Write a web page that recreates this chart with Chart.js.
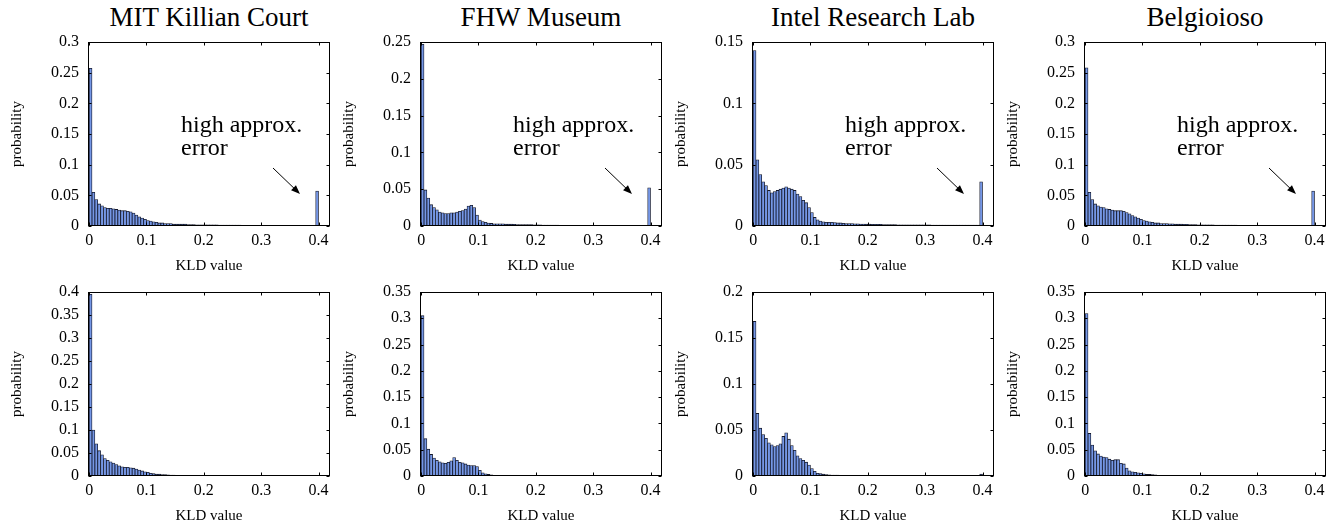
<!DOCTYPE html>
<html>
<head>
<meta charset="utf-8">
<script src="https://cdn.jsdelivr.net/npm/chart.js@4"></script>
<style>
  body { margin: 0; background: #fff; width: 1340px; height: 527px; position: relative; overflow: hidden; font-family: 'Liberation Serif', 'Times New Roman', serif; }
  .title { position: absolute; font-size: 27px; line-height: 27px; text-align: center; white-space: nowrap; }
  canvas { position: absolute; }
</style>
</head>
<body>
<script>
// histogram bins: 80 bins of width 0.005 from 0 to 0.4
const binWidth = 0.005;
const binCount = 80;
const xTicks = [0, 0.1, 0.2, 0.3, 0.4];
const titles = ['MIT Killian Court', 'FHW Museum', 'Intel Research Lab', 'Belgioioso'];
const noteLines = ['high approx.', 'error'];

const mitTop = [
  0.257, 0.055, 0.043, 0.036, 0.033, 0.030, 0.029, 0.029, 0.028, 0.027,
  0.026, 0.025, 0.025, 0.024, 0.023, 0.021, 0.018, 0.015, 0.013, 0.011,
  0.009, 0.008, 0.007, 0.006, 0.005, 0.005, 0.004, 0.004, 0.004, 0.003,
  0.003, 0.003, 0.003, 0.003, 0.0025, 0.0025, 0.0025, 0.002, 0.002, 0.002,
  0.002, 0.002, 0.002, 0.0018, 0.0018, 0.0016, 0.0016, 0.0015, 0.0015, 0.0014,
  0.0014, 0.0013, 0.0013, 0.0012, 0.0012, 0.0011, 0.0011, 0.001, 0.001, 0.001,
  0.001, 0.001, 0.0009, 0.0009, 0.0009, 0.0009, 0.0008, 0.0008, 0.0008, 0.0008,
  0.0008, 0.0007, 0.0007, 0.0007, 0.0007, 0.0007, 0.0006, 0.0006, 0.0006, 0.057
];
const fhwTop = [
  0.247, 0.049, 0.038, 0.029, 0.025, 0.022, 0.019, 0.018, 0.017, 0.017,
  0.018, 0.018, 0.019, 0.020, 0.021, 0.023, 0.027, 0.028, 0.025, 0.015,
  0.008, 0.006, 0.005, 0.004, 0.0035, 0.003, 0.003, 0.003, 0.003, 0.0025,
  0.0025, 0.0025, 0.0022, 0.002, 0.002, 0.002, 0.002, 0.0018, 0.0018, 0.0016,
  0.0015, 0.0015, 0.0014, 0.0013, 0.0012, 0.0012, 0.0012, 0.0011, 0.001, 0.001,
  0.001, 0.001, 0.001, 0.0009, 0.0009, 0.0009, 0.0008, 0.0008, 0.0008, 0.0008,
  0.0008, 0.0007, 0.0007, 0.0007, 0.0007, 0.0007, 0.0006, 0.0006, 0.0006, 0.0006,
  0.0006, 0.0006, 0.0006, 0.0006, 0.0005, 0.0005, 0.0005, 0.0005, 0.0005, 0.052
];
const intelTop = [
  0.143, 0.054, 0.042, 0.036, 0.033, 0.029, 0.027, 0.028, 0.029, 0.030,
  0.031, 0.032, 0.031, 0.030, 0.029, 0.026, 0.024, 0.021, 0.019, 0.015,
  0.011, 0.007, 0.005, 0.004, 0.0035, 0.003, 0.003, 0.003, 0.0028, 0.0025,
  0.0025, 0.0022, 0.002, 0.002, 0.002, 0.0018, 0.0018, 0.0016, 0.0016, 0.0015,
  0.0015, 0.0014, 0.0014, 0.0013, 0.0013, 0.0012, 0.0012, 0.0012, 0.0011, 0.0011,
  0.001, 0.001, 0.001, 0.001, 0.001, 0.001, 0.001, 0.0009, 0.0009, 0.0009,
  0.0009, 0.0009, 0.0008, 0.0008, 0.0008, 0.0008, 0.0008, 0.0008, 0.0008, 0.0008,
  0.0007, 0.0007, 0.0007, 0.0007, 0.0007, 0.0007, 0.0007, 0.0007, 0.0007, 0.036
];
const belTop = [
  0.258, 0.055, 0.043, 0.036, 0.033, 0.031, 0.030, 0.028, 0.027, 0.026,
  0.025, 0.025, 0.025, 0.024, 0.022, 0.020, 0.017, 0.015, 0.013, 0.011,
  0.009, 0.008, 0.007, 0.006, 0.005, 0.005, 0.004, 0.004, 0.004, 0.0035,
  0.0035, 0.003, 0.003, 0.003, 0.0028, 0.0026, 0.0025, 0.0024, 0.0022, 0.002,
  0.002, 0.002, 0.0019, 0.0018, 0.0018, 0.0017, 0.0016, 0.0015, 0.0015, 0.0014,
  0.0014, 0.0013, 0.0013, 0.0012, 0.0012, 0.0011, 0.0011, 0.001, 0.001, 0.001,
  0.001, 0.001, 0.0009, 0.0009, 0.0009, 0.0009, 0.0008, 0.0008, 0.0008, 0.0008,
  0.0008, 0.0007, 0.0007, 0.0007, 0.0007, 0.0007, 0.0007, 0.0006, 0.0006, 0.057
];

const mitBottom = [
  0.395, 0.100, 0.070, 0.055, 0.046, 0.038, 0.034, 0.031, 0.028, 0.025,
  0.022, 0.020, 0.019, 0.019, 0.018, 0.017, 0.015, 0.013, 0.011, 0.009,
  0.008, 0.006, 0.005, 0.004, 0.004, 0.003, 0.003, 0.0025, 0.002, 0.002,
  0.0015, 0.0015, 0.0012, 0.0012, 0.001, 0.001, 0.0009, 0.0008, 0.0008, 0.0007,
  0.0007, 0.0006, 0.0006, 0.0005, 0.0005, 0.0005, 0.0004, 0.0004, 0.0004, 0.0004,
  0.0003, 0.0003, 0.0003, 0.0003, 0.0003, 0.0003, 0.0003, 0.0002, 0.0002, 0.0002,
  0.0002, 0.0002, 0.0002, 0.0002, 0.0002, 0.0002, 0.0002, 0.0002, 0.0002, 0.0002,
  0.0002, 0.0002, 0.0002, 0.0002, 0.0002, 0.0002, 0.0002, 0.0002, 0.0002, 0.0004
];
const fhwBottom = [
  0.305, 0.071, 0.051, 0.041, 0.034, 0.030, 0.027, 0.025, 0.024, 0.026,
  0.029, 0.035, 0.030, 0.026, 0.025, 0.023, 0.021, 0.020, 0.020, 0.018,
  0.011, 0.006, 0.004, 0.003, 0.002, 0.0015, 0.0012, 0.001, 0.001, 0.0008,
  0.0008, 0.0007, 0.0006, 0.0006, 0.0005, 0.0005, 0.0005, 0.0004, 0.0004, 0.0004,
  0.0004, 0.0003, 0.0003, 0.0003, 0.0003, 0.0003, 0.0003, 0.0002, 0.0002, 0.0002,
  0.0002, 0.0002, 0.0002, 0.0002, 0.0002, 0.0002, 0.0002, 0.0002, 0.0002, 0.0002,
  0.0002, 0.0002, 0.0002, 0.0002, 0.0002, 0.0002, 0.0002, 0.0002, 0.0002, 0.0002,
  0.0002, 0.0002, 0.0002, 0.0002, 0.0002, 0.0002, 0.0002, 0.0002, 0.0002, 0.0004
];
const intelBottom = [
  0.168, 0.068, 0.052, 0.045, 0.041, 0.036, 0.034, 0.032, 0.033, 0.035,
  0.043, 0.047, 0.040, 0.033, 0.028, 0.022, 0.019, 0.017, 0.015, 0.012,
  0.008, 0.005, 0.003, 0.0025, 0.002, 0.0015, 0.0012, 0.001, 0.001, 0.0009,
  0.0008, 0.0008, 0.0007, 0.0007, 0.0006, 0.0006, 0.0005, 0.0005, 0.0005, 0.0004,
  0.0004, 0.0004, 0.0004, 0.0004, 0.0003, 0.0003, 0.0003, 0.0003, 0.0003, 0.0003,
  0.0003, 0.0003, 0.0003, 0.0002, 0.0002, 0.0002, 0.0002, 0.0002, 0.0002, 0.0002,
  0.0002, 0.0002, 0.0002, 0.0002, 0.0002, 0.0002, 0.0002, 0.0002, 0.0002, 0.0002,
  0.0002, 0.0002, 0.0002, 0.0002, 0.0002, 0.0002, 0.0002, 0.0002, 0.0002, 0.002
];
const belBottom = [
  0.309, 0.081, 0.059, 0.048, 0.042, 0.038, 0.036, 0.035, 0.032, 0.030,
  0.031, 0.031, 0.024, 0.023, 0.015, 0.010, 0.008, 0.007, 0.006, 0.005,
  0.004, 0.003, 0.003, 0.0025, 0.002, 0.0015, 0.0013, 0.0011, 0.001, 0.0009,
  0.0008, 0.0007, 0.0007, 0.0006, 0.0006, 0.0005, 0.0005, 0.0005, 0.0004, 0.0004,
  0.0004, 0.0003, 0.0003, 0.0003, 0.0003, 0.0003, 0.0003, 0.0002, 0.0002, 0.0002,
  0.0002, 0.0002, 0.0002, 0.0002, 0.0002, 0.0002, 0.0002, 0.0002, 0.0002, 0.0002,
  0.0002, 0.0002, 0.0002, 0.0002, 0.0002, 0.0002, 0.0002, 0.0002, 0.0002, 0.0002,
  0.0002, 0.0002, 0.0002, 0.0002, 0.0002, 0.0002, 0.0002, 0.0002, 0.0002, 0.0004
];

const topSeries = [mitTop, fhwTop, intelTop, belTop];
const bottomSeries = [mitBottom, fhwBottom, intelBottom, belBottom];
const topMax = [0.3, 0.25, 0.15, 0.3];
const bottomMax = [0.4, 0.35, 0.2, 0.35];

// layout
const FONT = "'Liberation Serif', 'Times New Roman', serif";
const plotLefts = [88, 420, 752, 1084];
const plotTops = [42, 292];
const plotW = 242, plotH = 184;
const yAxisW = 84, xAxisH = 53, padTop = 12, padRight = 12;

Chart.defaults.font.family = FONT;
Chart.defaults.color = '#000';

const binCenters = [];
for (let i = 0; i < binCount; i++) binCenters.push(binWidth * i + binWidth / 2);

function fmt(v) {
    return String(Number(v.toFixed(3)));
}

// inward ticks on all four sides plus the box, like the original
const frameTicks = {
    id: 'frameTicks',
    afterDatasetsDraw(chart) {
        const { ctx, chartArea: a, scales: { x, y } } = chart;
        const L = Math.round(a.left) + 0.5, R = Math.round(a.right) - 0.5;
        const T = Math.round(a.top) + 0.5, B = Math.round(a.bottom) - 0.5;
        ctx.save();
        ctx.strokeStyle = '#000';
        ctx.lineWidth = 1;
        ctx.beginPath();
        x.ticks.forEach(t => {
            const px = Math.round(x.getPixelForValue(t.value)) + 0.5;
            ctx.moveTo(px, B); ctx.lineTo(px, B - 3);
            ctx.moveTo(px, T); ctx.lineTo(px, T + 3);
        });
        y.ticks.forEach(t => {
            const py = Math.round(y.getPixelForValue(t.value)) + 0.5;
            ctx.moveTo(L, py); ctx.lineTo(L + 3, py);
            ctx.moveTo(R, py); ctx.lineTo(R - 3, py);
        });
        ctx.stroke();
        ctx.strokeRect(L, T, R - L, B - T);
        ctx.restore();
    }
};

const approxNote = {
    id: 'approxNote',
    afterDraw(chart) {
        const { ctx, chartArea: a } = chart;
        ctx.save();
        ctx.fillStyle = '#000';
        ctx.font = '24px ' + FONT;
        ctx.textBaseline = 'alphabetic';
        ctx.fillText(noteLines[0], a.left + 93, a.top + 90);
        ctx.fillText(noteLines[1], a.left + 93, a.top + 113);
        // arrow pointing down-right to the last bin
        const x0 = a.left + 185, y0 = a.top + 126, x1 = a.left + 212, y1 = a.top + 152;
        const ang = Math.atan2(y1 - y0, x1 - x0);
        const c = Math.cos(ang), s = Math.sin(ang);
        ctx.strokeStyle = '#000';
        ctx.lineWidth = 1;
        ctx.beginPath();
        ctx.moveTo(x0, y0);
        ctx.lineTo(x1 - 6 * c, y1 - 6 * s);
        ctx.stroke();
        ctx.beginPath();
        ctx.moveTo(x1, y1);
        ctx.lineTo(x1 - 9 * c + 3.5 * s, y1 - 9 * s - 3.5 * c);
        ctx.lineTo(x1 - 9 * c - 3.5 * s, y1 - 9 * s + 3.5 * c);
        ctx.closePath();
        ctx.fill();
        ctx.restore();
    }
};

function makePanel(col, row) {
    const values = row === 0 ? topSeries[col] : bottomSeries[col];
    const yMax = row === 0 ? topMax[col] : bottomMax[col];

    const canvas = document.createElement('canvas');
    const w = yAxisW + plotW + padRight, h = padTop + plotH + xAxisH;
    canvas.width = w;
    canvas.height = h;
    canvas.style.left = (plotLefts[col] - yAxisW) + 'px';
    canvas.style.top = (plotTops[row] - padTop) + 'px';
    canvas.style.width = w + 'px';
    canvas.style.height = h + 'px';
    document.body.appendChild(canvas);

    const plugins = [frameTicks];
    if (row === 0) plugins.push(approxNote);

    new Chart(canvas.getContext('2d'), {
        type: 'bar',
        data: {
            datasets: [{
                data: values.map((v, i) => ({ x: binCenters[i], y: v })),
                backgroundColor: '#7597e6',
                borderColor: '#14182a',
                borderWidth: 0.8,
                categoryPercentage: 1,
                barPercentage: 1,
            }],
        },
        options: {
            responsive: false,
            animation: false,
            devicePixelRatio: 1,
            layout: { padding: { left: 0, top: padTop, right: padRight, bottom: 0 } },
            plugins: { legend: { display: false }, tooltip: { enabled: false } },
            scales: {
                x: {
                    type: 'linear',
                    offset: false,
                    bounds: 'ticks',
                    min: -0.002,
                    max: 0.42,
                    afterBuildTicks: s => { s.ticks = xTicks.map(v => ({ value: v })); },
                    afterFit: s => { s.height = xAxisH; s.paddingLeft = 0; s.paddingRight = 0; },
                    grid: { display: false, drawTicks: false, offset: false },
                    border: { display: false },
                    ticks: { color: '#000', font: { family: FONT, size: 16 }, padding: 5, maxRotation: 0, callback: v => fmt(v) },
                    title: { display: true, text: 'KLD value', color: '#000', font: { family: FONT, size: 15 }, padding: { top: 0, bottom: 4 } },
                },
                y: {
                    min: 0,
                    max: yMax,
                    afterFit: s => { s.width = yAxisW; s.paddingTop = 0; s.paddingBottom = 0; },
                    grid: { display: false, drawTicks: false },
                    border: { display: false },
                    ticks: { stepSize: 0.05, color: '#000', font: { family: FONT, size: 16 }, padding: 9, callback: v => fmt(v) },
                    title: { display: true, text: 'probability', color: '#000', font: { family: FONT, size: 15 }, padding: { top: 4, bottom: 0 } },
                },
            },
        },
        plugins: plugins,
    });
}

titles.forEach((t, c) => {
    const d = document.createElement('div');
    d.className = 'title';
    d.textContent = t;
    d.style.left = plotLefts[c] + 'px';
    d.style.width = plotW + 'px';
    d.style.top = '4px';
    document.body.appendChild(d);
});

for (let r = 0; r < 2; r++) {
    for (let c = 0; c < 4; c++) makePanel(c, r);
}
</script>
</body>
</html>
